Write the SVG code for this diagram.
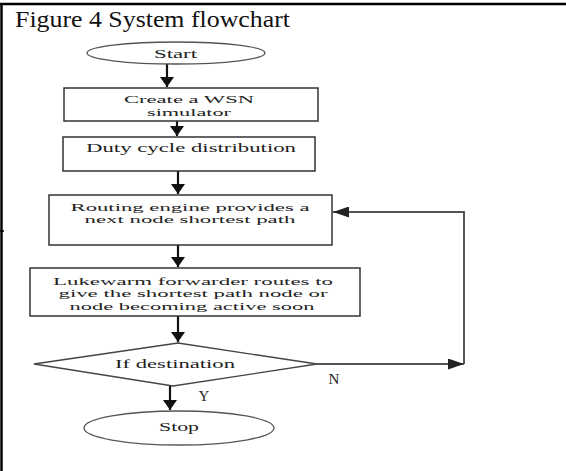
<svg xmlns="http://www.w3.org/2000/svg" width="566" height="471" viewBox="0 0 566 471">
<style>
.t{font-family:"Liberation Serif","Times New Roman",serif;font-size:12px;fill:#222;text-anchor:middle}
.s{font-size:10.5px}
.lab{font-family:"Liberation Serif","Times New Roman",serif;font-size:15px;fill:#222;text-anchor:middle}
.title{font-family:"Liberation Serif","Times New Roman",serif;font-size:24px;fill:#111}
.box{fill:#fff;stroke:#333;stroke-width:1.5}
.arr{stroke:#111;stroke-width:2.2;fill:none}
.fb{stroke:#555;stroke-width:2;fill:none}
</style>
<defs>
<marker id="ah" viewBox="0 0 10 14" refX="10" refY="7" markerWidth="10" markerHeight="14" markerUnits="userSpaceOnUse" orient="auto">
<path d="M0,0 L10,7 L0,14 Z" fill="#111"/>
</marker>
<marker id="ah2" viewBox="0 0 16 11" refX="16" refY="5.5" markerWidth="16" markerHeight="11" markerUnits="userSpaceOnUse" orient="auto">
<path d="M0,0 L16,5.5 L0,11 Z" fill="#222"/>
</marker>
</defs>
<rect width="566" height="471" fill="#fff"/>
<g id="frame">
<line x1="0" y1="4" x2="566" y2="4" stroke="#000" stroke-width="2.5"/>
<line x1="1.5" y1="3" x2="1.5" y2="471" stroke="#000" stroke-width="2.5"/>
<line x1="0" y1="231" x2="4" y2="231" stroke="#000" stroke-width="1.5"/>
</g>
<text class="title" x="15" y="27" textLength="275" lengthAdjust="spacingAndGlyphs">Figure 4 System flowchart</text>
<g id="connectors">
<line class="arr" x1="167" y1="64" x2="167" y2="87" marker-end="url(#ah)"/>
<line class="arr" x1="177" y1="121" x2="177" y2="136" marker-end="url(#ah)"/>
<line class="arr" x1="178" y1="171" x2="178" y2="194" marker-end="url(#ah)"/>
<line class="arr" x1="178" y1="245" x2="178" y2="267" marker-end="url(#ah)"/>
<line class="arr" x1="178" y1="316" x2="178" y2="342" marker-end="url(#ah)"/>
<line class="arr" x1="170" y1="386" x2="170" y2="410" marker-end="url(#ah)"/>
<line class="fb" x1="317" y1="364" x2="464" y2="364" marker-end="url(#ah2)"/>
<polyline class="fb" points="464,364 464,212 333,212" marker-end="url(#ah2)"/>
</g>
<g id="start">
<ellipse cx="176" cy="53" rx="89" ry="11" fill="#fff" stroke="#555" stroke-width="1.3"/>
<text class="t" x="175.5" y="57.5" textLength="43" lengthAdjust="spacingAndGlyphs">Start</text>
</g>
<g id="create">
<rect class="box" x="64" y="88" width="254" height="33"/>
<text class="t s" x="189" y="103" textLength="130" lengthAdjust="spacingAndGlyphs">Create a WSN</text>
<text class="t s" x="189" y="115.5" textLength="84" lengthAdjust="spacingAndGlyphs">simulator</text>
</g>
<g id="duty">
<rect class="box" x="63" y="137" width="252" height="34"/>
<text class="t" x="191" y="152" textLength="210" lengthAdjust="spacingAndGlyphs">Duty cycle distribution</text>
</g>
<g id="routing">
<rect class="box" x="49" y="195" width="283" height="50"/>
<text class="t s" x="190" y="210.5" textLength="239" lengthAdjust="spacingAndGlyphs">Routing engine provides a</text>
<text class="t s" x="190" y="223" textLength="211" lengthAdjust="spacingAndGlyphs">next node shortest path</text>
</g>
<g id="lukewarm">
<rect class="box" x="30" y="268" width="330" height="48"/>
<text class="t s" x="193" y="284.5" textLength="280" lengthAdjust="spacingAndGlyphs">Lukewarm forwarder routes to</text>
<text class="t s" x="193" y="297" textLength="269" lengthAdjust="spacingAndGlyphs">give the shortest path node or</text>
<text class="t s" x="192" y="309.5" textLength="245" lengthAdjust="spacingAndGlyphs">node becoming active soon</text>
</g>
<g id="decision">
<polygon points="178,343 317,364 173,386 34,364" fill="#fff" stroke="#444" stroke-width="1.3"/>
<text class="t" x="175" y="367.5" textLength="120" lengthAdjust="spacingAndGlyphs">If destination</text>
</g>
<text class="lab" x="334" y="384">N</text>
<text class="lab" x="204" y="401">Y</text>
<g id="stop">
<ellipse cx="179" cy="428" rx="95" ry="17" fill="#fff" stroke="#555" stroke-width="1.3"/>
<text class="t" x="179" y="431" textLength="40" lengthAdjust="spacingAndGlyphs">Stop</text>
</g>
</svg>
